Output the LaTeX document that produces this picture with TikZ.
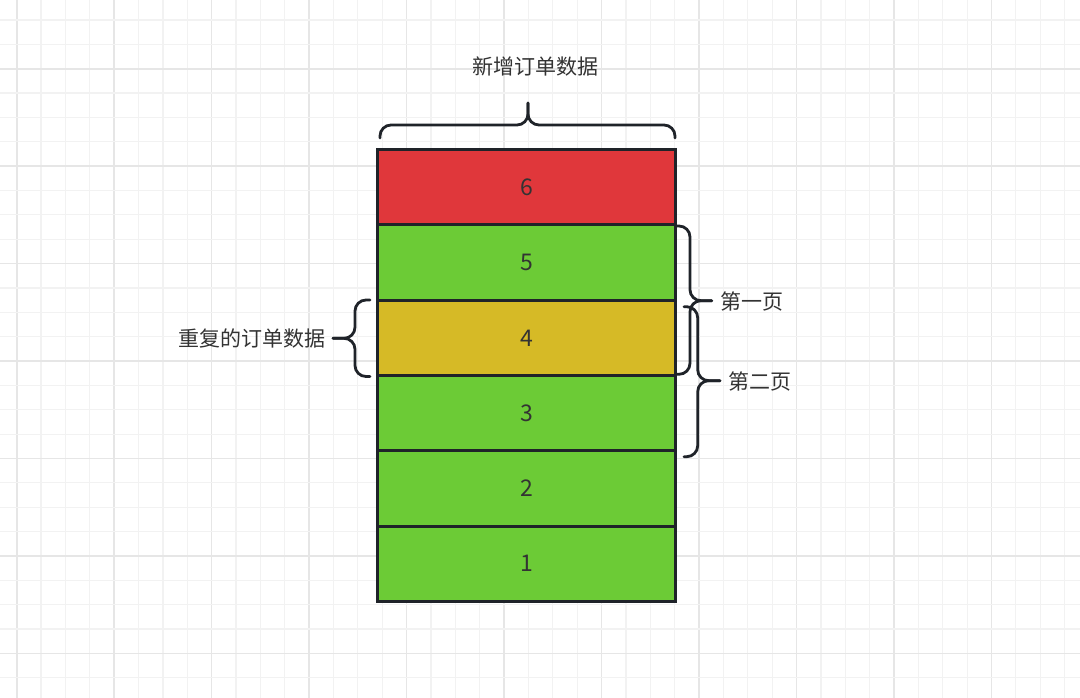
\documentclass[tikz,border=0pt]{standalone}
\usepackage{fontspec}
\setmainfont{Noto Sans CJK SC}
\begin{document}
\begin{tikzpicture}[x=1pt,y=-1pt,
  minorgrid/.style={draw=gridminor,line width=1.2pt},
  majorgrid/.style={draw=gridmajor,line width=1.6pt},
  cell/.style={draw=edge,line width=3pt,minimum width=298pt,minimum height=75.3pt,inner sep=0pt,
    font=\fontsize{23}{26}\selectfont,text=txt},
  bracepath/.style={draw=edge,line width=2.8pt,rounded corners=11pt,line cap=round},
  label/.style={font=\fontsize{21}{24}\selectfont,text=txt,inner sep=0pt}]
\definecolor{gridminor}{HTML}{F2F2F2}
\definecolor{gridmajor}{HTML}{E6E6E6}
\definecolor{edge}{HTML}{1F2329}
\definecolor{txt}{HTML}{333333}
\definecolor{cred}{HTML}{E0373B}
\definecolor{cgreen}{HTML}{6CCB36}
\definecolor{cyellow}{HTML}{D6BA26}
\useasboundingbox (0,0) rectangle (1080,698);
\fill[white] (0,0) rectangle (1080,698);
% grid
\foreach \k in {0,...,43}{
  \pgfmathsetmacro\xx{16.7+24.37*\k}
  \pgfmathtruncatemacro\mm{mod(\k,4)}
  \ifnum\mm=0
    \draw[majorgrid] (\xx,0) -- (\xx,698);
  \else
    \draw[minorgrid] (\xx,0) -- (\xx,698);
  \fi
}
\foreach \k in {0,...,27}{
  \pgfmathsetmacro\yy{20+24.36*\k}
  \pgfmathtruncatemacro\mm{mod(\k,4)}
  \ifnum\mm=2
    \draw[majorgrid] (0,\yy) -- (1080,\yy);
  \else
    \draw[minorgrid] (0,\yy) -- (1080,\yy);
  \fi
}
% cells
\node[cell,fill=cred]    (b6) at (526.7,187.2) {6};
\node[cell,fill=cgreen]  (b5) at (526.7,262.5) {5};
\node[cell,fill=cyellow] (b4) at (526.7,337.8) {4};
\node[cell,fill=cgreen]  (b3) at (526.7,413.1) {3};
\node[cell,fill=cgreen]  (b2) at (526.7,488.4) {2};
\node[cell,fill=cgreen]  (b1) at (526.7,563.7) {1};
% top brace
\coordinate (tl) at (380,138);
\coordinate (tr) at (675,138);
\coordinate (tt) at (528,103);
\draw[bracepath] (tl) -- (380,125) -- (528,125) -- (tt);
\draw[bracepath] (tt) -- (528,125) -- (675,125) -- (tr);
\node[label] (lnew) at (535,67) {新增订单数据};
% left brace
\coordinate (lt) at (370,300);
\coordinate (lb) at (370,376.5);
\coordinate (lp) at (333,338.3);
\draw[bracepath] (lt) -- (355,300) -- (355,338.3) -- (lp);
\draw[bracepath] (lp) -- (355,338.3) -- (355,376.5) -- (lb);
\node[label,anchor=east] (ldup) at (326,338.3) {重复的订单数据};
% right brace 1
\coordinate (r1t) at (677,226);
\coordinate (r1b) at (677,374.3);
\coordinate (r1p) at (711.7,300.7);
\draw[bracepath] (r1t) -- (690,226) -- (690,300.7) -- (r1p);
\draw[bracepath] (r1p) -- (690,300.7) -- (690,374.3) -- (r1b);
\node[label,anchor=west] (lp1) at (720,301.5) {第一页};
% right brace 2
\coordinate (r2t) at (684,306.7);
\coordinate (r2b) at (684,456.7);
\coordinate (r2p) at (720,380.7);
\draw[bracepath] (r2t) -- (697.7,306.7) -- (697.7,380.7) -- (r2p);
\draw[bracepath] (r2p) -- (697.7,380.7) -- (697.7,456.7) -- (r2b);
\node[label,anchor=west] (lp2) at (728.5,381.5) {第二页};
\end{tikzpicture}
\end{document}
